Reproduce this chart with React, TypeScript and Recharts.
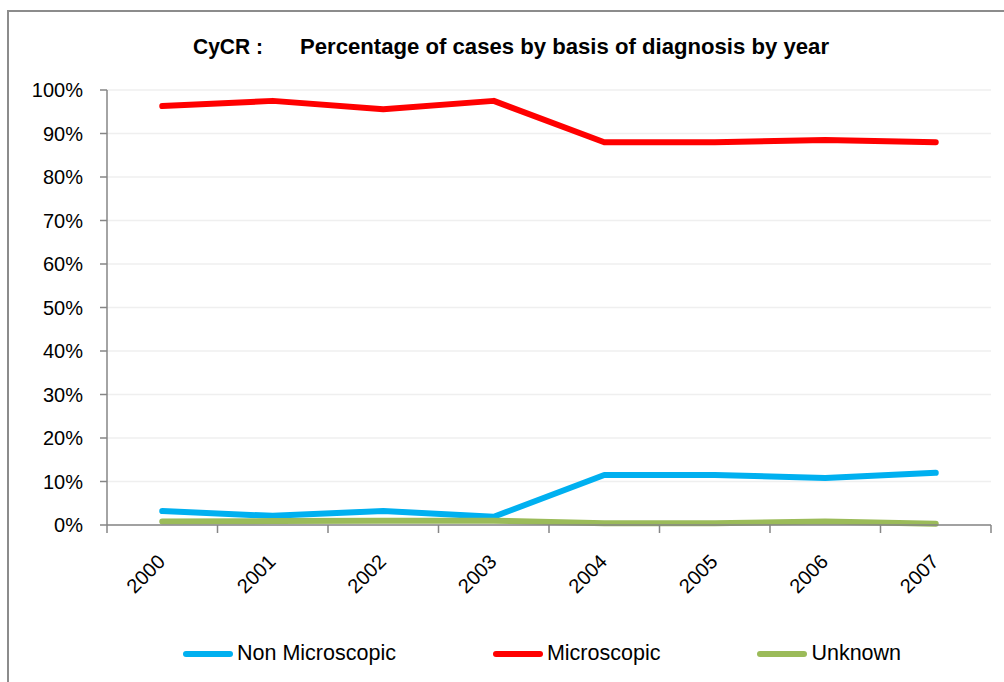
import { CartesianGrid, Line, LineChart, XAxis, YAxis } from "recharts";

// values (percent of cases)
const years = ["2000", "2001", "2002", "2003", "2004", "2005", "2006", "2007"];
const nonMicroscopic = [3.2, 2.1, 3.2, 1.9, 11.5, 11.5, 10.8, 12.0];
const microscopic = [96.3, 97.5, 95.6, 97.5, 88.0, 88.0, 88.5, 88.0];
const unknown = [0.8, 0.9, 1.0, 1.0, 0.4, 0.4, 0.8, 0.3];
const yTicks = [0, 10, 20, 30, 40, 50, 60, 70, 80, 90, 100];

const seriesNames = ["Non Microscopic", "Microscopic", "Unknown"];
const seriesKeys = ["nonMicroscopic", "microscopic", "unknown"];
const seriesColors = ["#00B0F0", "#FF0000", "#9BBB59"];

const data = years.map((year, i) => ({
  year,
  nonMicroscopic: nonMicroscopic[i],
  microscopic: microscopic[i],
  unknown: unknown[i],
}));

const FONT = "'Liberation Sans', Arial, sans-serif";
const AXIS_COLOR = "#868686";

// year label rotated -45deg, plus Excel-style tick marks on the category boundaries
const YearTick = (props: any) => {
  const { x, y, payload, width, visibleTicksCount, index } = props;
  const half =
    payload.offset ?? width / (visibleTicksCount || years.length) / 2;
  const isLast = index === (visibleTicksCount || years.length) - 1;
  return (
    <g>
      <line x1={x - half} x2={x - half} y1={y} y2={y + 8} stroke={AXIS_COLOR} strokeWidth={1.5} />
      {isLast && (
        <line x1={x + half} x2={x + half} y1={y} y2={y + 8} stroke={AXIS_COLOR} strokeWidth={1.5} />
      )}
      <text
        transform={`translate(${x + 4}, ${y + 38}) rotate(-45)`}
        textAnchor="end"
        fontSize={20}
        fontFamily={FONT}
        fill="#000"
      >
        {payload.value}
      </text>
    </g>
  );
};

const App = () => {
  return (
    <div
      style={{
        position: "absolute",
        left: 0,
        top: 0,
        width: 1004,
        height: 682,
        overflow: "hidden",
        background: "#fff",
      }}
    >
      <div
        style={{
          position: "absolute",
          left: 7,
          top: 10,
          width: 1100,
          height: 800,
          border: "2px solid #8c8c8c",
        }}
      />

      <svg
        width={1004}
        height={80}
        style={{ position: "absolute", left: 0, top: 0 }}
      >
        <text x={193} y={54} fontSize={22} fontWeight="bold" fontFamily={FONT} textLength={70} lengthAdjust="spacingAndGlyphs">
          CyCR :
        </text>
        <text x={300} y={54} fontSize={22} fontWeight="bold" fontFamily={FONT} textLength={529} lengthAdjust="spacingAndGlyphs">
          Percentage of cases by basis of diagnosis by year
        </text>
      </svg>

      <div style={{ position: "absolute", left: 0, top: 0 }}>
        <LineChart
          width={1004}
          height={682}
          data={data}
          margin={{ top: 90, right: 13, bottom: 155, left: 0 }}
        >
          <CartesianGrid
            vertical={false}
            stroke="#EFEFEF"
            strokeWidth={1.5}
          />
          <XAxis
            dataKey="year"
            scale="band"
            stroke={AXIS_COLOR}
            strokeWidth={1.5}
            tickLine={false}
            tickSize={0}
            tickMargin={0}
            interval={0}
            height={2}
            tick={<YearTick />}
          />
          <YAxis
            domain={[0, 100]}
            ticks={yTicks}
            interval={0}
            width={107}
            tickFormatter={(v: number) => `${v}%`}
            tickSize={7}
            tickMargin={17}
            stroke={AXIS_COLOR}
            strokeWidth={1.5}
            tick={{ fill: "#000", fontSize: 20, fontFamily: FONT }}
          />
          {seriesKeys.map((key, i) => (
            <Line
              key={key}
              dataKey={key}
              name={seriesNames[i]}
              stroke={seriesColors[i]}
              strokeWidth={6}
              strokeLinecap="round"
              strokeLinejoin="round"
              dot={false}
              activeDot={false}
              isAnimationActive={false}
            />
          ))}
        </LineChart>
      </div>

      <div
        style={{
          position: "absolute",
          left: 183,
          top: 641,
          display: "flex",
          gap: 97,
          fontFamily: FONT,
          fontSize: 21.5,
          color: "#000",
        }}
      >
        {seriesNames.map((name, i) => (
          <div key={name} style={{ display: "flex", alignItems: "center" }}>
            <span
              style={{
                display: "inline-block",
                width: 50,
                height: 6,
                borderRadius: 3,
                background: seriesColors[i],
                marginRight: 4,
              }}
            />
            <span>{name}</span>
          </div>
        ))}
      </div>
    </div>
  );
};

export default App;
